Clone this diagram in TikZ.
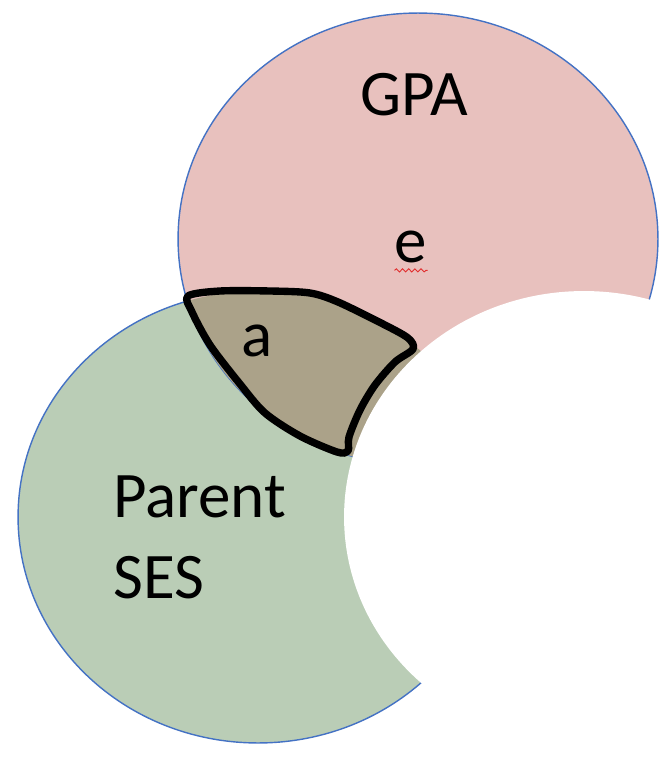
\documentclass[tikz,border=0pt]{standalone}
\definecolor{gpapink}{RGB}{232,193,190}
\definecolor{sesgreen}{RGB}{186,205,182}
\definecolor{sharedbrown}{RGB}{171,162,137}
\definecolor{edgeblue}{RGB}{68,114,196}
\definecolor{squigred}{RGB}{225,45,45}
\usepackage{xcolor}
\usepackage{fontspec}
\setmainfont{Carlito}
\usepackage{tikz}
\usetikzlibrary{decorations.pathmorphing}

\begin{document}
\begin{tikzpicture}[x=0.02cm,y=-0.02cm,
  blob/.style={x radius=4.8cm,y radius=4.52cm},
  rim/.style={draw=edgeblue,line width=0.8pt},
  venntext/.style={font=\fontsize{37}{44}\selectfont,inner sep=0pt,text=black},
  outline/.style={draw=black,line width=4.2pt,line join=round}
]
  \fill[white] (0,0) rectangle (670,760);
  \useasboundingbox (0,0) rectangle (670,760);
  % centres
  \coordinate (cses) at (258,517);
  \coordinate (cgpa) at (418,239);
  \coordinate (ccut) at (584,517);
  % Parent SES and GPA
  \fill[sesgreen] (cses) ellipse [blob];
  \draw[rim] (cses) ellipse [blob];
  \fill[gpapink] (cgpa) ellipse [blob];
  \draw[rim] (cgpa) ellipse [blob];
  % shared part
  \begin{scope}
    \clip (cses) ellipse [blob];
    \fill[sharedbrown] (cgpa) ellipse [blob];
  \end{scope}
  % cut-out
  \fill[white] (ccut) ellipse [blob];
  % hand-drawn border of a
  \draw[outline] plot[smooth cycle,tension=0.5] coordinates {
    (188,296) (220,291) (270,291) (310,293) (338,302) (383,324) (408,338)
    (413,349) (395,362) (375,385) (360,410) (349,437) (348,451) (337,452)
    (300,436) (265,413) (240,384) (210,345) (192,312)};
  % labels
  \node[venntext] (gpa) at (414,95) {GPA};
  \node[venntext] (e) at (411,247) {e};
  \node[venntext] (a) at (257,341) {a};
  \node[venntext,anchor=base west] (parent) at (113,517) {Parent};
  \node[venntext,anchor=base west] (ses) at (113,598) {SES};
  \draw[squigred,line width=0.5pt,decorate,
        decoration={snake,amplitude=0.9pt,segment length=3.5pt}]
    ([yshift=-4pt]e.south west) -- ([yshift=-4pt]e.south east);
\end{tikzpicture}
\end{document}
